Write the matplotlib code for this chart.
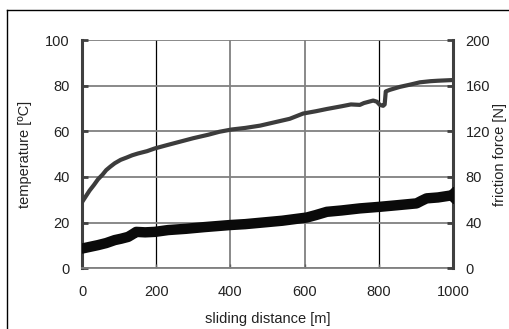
import matplotlib
matplotlib.use("Agg")
import matplotlib.pyplot as plt
from matplotlib.lines import Line2D

plt.rcParams['font.family'] = ['Liberation Sans', 'DejaVu Sans']
plt.rcParams['font.size'] = 10.5

# temperature curve (left axis)
temp_dist = [0, 10, 20, 32, 43, 55, 65, 76, 88, 104, 120, 135, 151, 175, 196, 230,
             265, 300, 340, 370, 403, 440, 480, 520, 560, 596, 630, 660, 700, 725,
             749, 760, 785, 795, 803, 812, 816, 819, 830, 857, 885, 911, 940, 960, 1000]
temp_vals = [29, 31.5, 34, 36.5, 39, 41, 43, 44.5, 46, 47.5, 48.5, 49.5, 50.3, 51.3, 52.5, 54,
             55.5, 57, 58.5, 59.8, 60.8, 61.5, 62.5, 64, 65.5, 67.8, 68.8, 69.8, 71, 71.8,
             71.6, 72.4, 73.5, 73.0, 71.6, 71.2, 71.8, 77.5, 78.2, 79.5, 80.5, 81.5, 82.0, 82.2, 82.5]

# friction force curve (right axis, N)
fric_dist = [0, 20, 43, 65, 88, 105, 124, 135, 146, 170, 196, 232, 280, 330, 399, 440,
             480, 540, 606, 630, 660, 700, 749, 780, 803, 850, 902, 915, 929, 960, 1000]
fric_vals = [17.2, 18.6, 20.2, 22, 24.6, 25.8, 27.4, 29.5, 31.8, 31.4, 31.8, 33.4, 34.5, 36, 37.8, 38.6,
             39.8, 41.6, 44.4, 46.5, 49.4, 50.6, 52.4, 53.2, 53.8, 55.2, 56.8, 59.0, 61.2, 62.0, 64]

x_ticks = [0, 200, 400, 600, 800, 1000]
temp_ticks = [0, 20, 40, 60, 80, 100]
fric_ticks = [0, 40, 80, 120, 160, 200]

fig = plt.figure(figsize=(5.10, 3.29), dpi=100)
ax = fig.add_axes([0.161, 0.185, 0.727, 0.693])
ax2 = ax.twinx()

ax.set_xlim(0, 1000)
ax.set_ylim(0, 100)
ax2.set_ylim(0, 200)
ax.set_xticks(x_ticks)
ax.set_yticks(temp_ticks)
ax2.set_yticks(fric_ticks)

# grid
ax.grid(True, color='#808080', linewidth=1.3)
ax.set_axisbelow(True)
for i, gl in enumerate(ax.get_xgridlines()):
    if x_ticks[i] in (200, 800):
        gl.set_color('black')
        gl.set_linewidth(0.9)

ax.plot(temp_dist, temp_vals, color='#3c3c3c', linewidth=3, solid_capstyle='round', zorder=3)
ax2.plot(fric_dist, fric_vals, color='#0a0a0a', linewidth=7.5, solid_capstyle='round',
         solid_joinstyle='round', zorder=3)
ax2.plot(fric_dist[-1:], fric_vals[-1:], marker='D', color='#0a0a0a', markersize=8, zorder=4)

for a in (ax, ax2):
    for s in a.spines.values():
        s.set_visible(False)
ax.spines['left'].set_visible(True)
ax.spines['left'].set_color('#404040')
ax.spines['left'].set_linewidth(2.2)
ax.spines['bottom'].set_visible(True)
ax.spines['bottom'].set_color('#808080')
ax.spines['bottom'].set_linewidth(1.3)
ax2.spines['right'].set_visible(True)
ax2.spines['right'].set_color('#404040')
ax2.spines['right'].set_linewidth(2.2)

ax.tick_params(axis='y', direction='in', length=4, width=2, color='#404040', pad=9,
               labelcolor='#222222')
ax.tick_params(axis='x', direction='in', length=3, width=1, color='#606060', pad=12.5,
               labelcolor='#222222')
ax2.tick_params(axis='y', direction='in', length=4, width=2, color='#404040', pad=9,
                labelcolor='#222222')

ax.set_xlabel('sliding distance [m]', color='#222222', labelpad=9)
ax.set_ylabel('temperature [ºC]', color='#222222', labelpad=9)
ax2.set_ylabel('friction force [N]', color='#222222', labelpad=2)

# outer frame (partially cut off at right/bottom)
fig.add_artist(Line2D([7 / 510, 7 / 510], [0, 319 / 329], color='black', linewidth=1.0))
fig.add_artist(Line2D([7 / 510, 1], [319 / 329, 319 / 329], color='black', linewidth=1.0))

fig.savefig('out.png', dpi=100)
